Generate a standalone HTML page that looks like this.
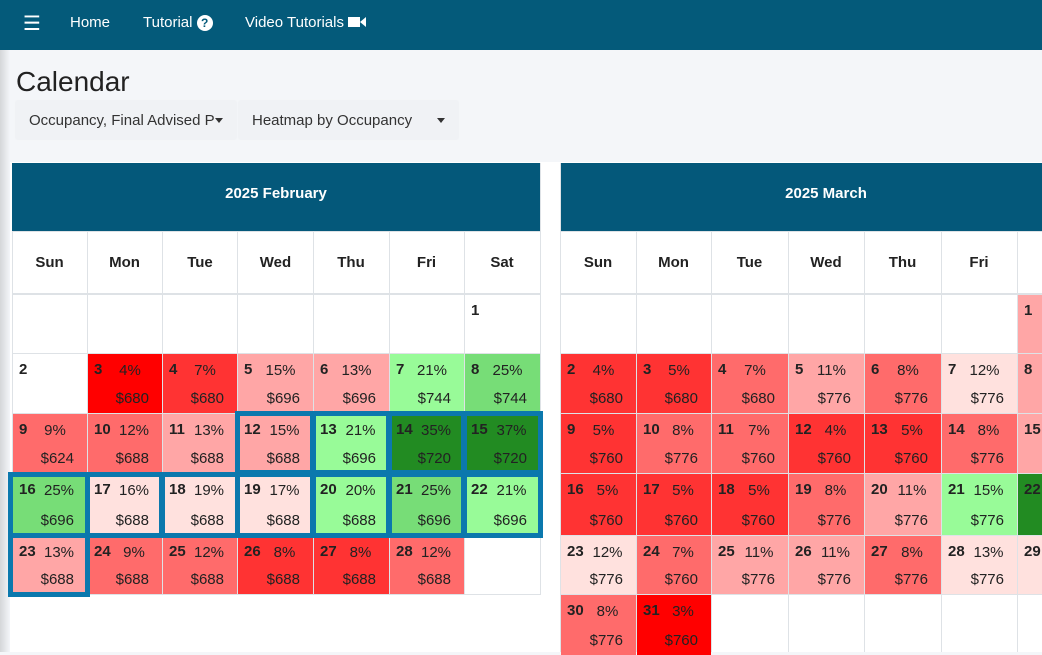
<!DOCTYPE html>
<html><head><meta charset="utf-8"><style>
*{box-sizing:border-box;margin:0;padding:0}
body{width:1042px;height:652px;overflow:hidden;background:#f4f6f9;font-family:"Liberation Sans","DejaVu Sans",sans-serif;position:relative;color:#212529}
.nav{position:absolute;left:0;top:0;width:1042px;height:50px;background:#045a7a;color:#fff;font-size:15px}
.nav span{position:absolute;top:14px}
.shadow{position:absolute;left:0;top:50px;width:10px;height:602px;background:linear-gradient(to right,#d4d6d9,#f4f6f9)}
h1{position:absolute;left:16px;top:66px;font-size:28px;font-weight:normal;color:#222}
.dd{position:absolute;top:101px;height:38px;background:#f0f2f5;font-size:15px;color:#333;padding:11px 13px;box-shadow:0 0 2px rgba(0,0,0,.05)}
.car{position:absolute;top:17px;width:0;height:0;border-left:4px solid transparent;border-right:4px solid transparent;border-top:5px solid #333}
.panel{position:absolute;left:10px;top:162px;width:1032px;height:490px;background:#fff}
.hd{position:absolute;top:163px;height:68px;background:#04587a;color:#fff;font-weight:bold;font-size:15px;text-align:center;line-height:62px}
.g{position:absolute;background:#dee2e6}
.wd{position:absolute;top:232px;height:62px;line-height:62px;text-align:center;font-weight:bold;font-size:15px;color:#222}
.c{position:absolute;font-size:15px;color:#222}
.c b{position:absolute;left:6px;top:7px;font-size:15px}
.c .p{position:absolute;top:8px;right:4px;text-align:center}
.c .m{position:absolute;right:13px;bottom:6px}
.o{position:absolute;border:5px solid #0b78ad}
</style></head><body>
<div class="nav">
<span style="left:23px;top:11px;font-size:20px;font-weight:bold">&#9776;</span>
<span style="left:70px">Home</span>
<span style="left:143px">Tutorial <b style="display:inline-block;width:16px;height:16px;border-radius:8px;background:#fff;color:#045a7a;font-size:12px;text-align:center;line-height:16px">?</b></span>
<span style="left:245px">Video Tutorials <b style="display:inline-block;width:12px;height:10px;background:#fff"></b><b style="display:inline-block;width:0;height:0;border-top:5px solid transparent;border-bottom:5px solid transparent;border-right:6px solid #fff"></b></span>
</div>
<div class="shadow"></div>
<h1>Calendar</h1>
<div class="dd" style="left:16px;width:220px">Occupancy, Final Advised P<i class="car" style="left:199px"></i></div>
<div class="dd" style="left:239px;width:219px">Heatmap by Occupancy<i class="car" style="left:198px"></i></div>
<div class="panel"></div>

<div class="hd" style="left:12px;width:528px">2025 February</div>
<div class="hd" style="left:560px;width:532px">2025 March</div>

<div class="g" style="left:12px;top:231px;width:528px;height:1px"></div>
<div class="g" style="left:12px;top:293px;width:528px;height:2px"></div>
<div class="g" style="left:12px;top:353px;width:528px;height:1px"></div>
<div class="g" style="left:12px;top:413px;width:528px;height:1px"></div>
<div class="g" style="left:12px;top:473px;width:528px;height:1px"></div>
<div class="g" style="left:12px;top:535px;width:528px;height:1px"></div>
<div class="g" style="left:12px;top:594px;width:528px;height:1px"></div>
<div class="g" style="left:12px;top:231px;width:1px;height:364px"></div>
<div class="g" style="left:87px;top:231px;width:1px;height:364px"></div>
<div class="g" style="left:162px;top:231px;width:1px;height:364px"></div>
<div class="g" style="left:237px;top:231px;width:1px;height:364px"></div>
<div class="g" style="left:313px;top:231px;width:1px;height:364px"></div>
<div class="g" style="left:389px;top:231px;width:1px;height:364px"></div>
<div class="g" style="left:464px;top:231px;width:1px;height:364px"></div>
<div class="g" style="left:540px;top:163px;width:1px;height:432px"></div>
<div class="g" style="left:560px;top:231px;width:482px;height:1px"></div>
<div class="g" style="left:560px;top:293px;width:482px;height:2px"></div>
<div class="g" style="left:560px;top:353px;width:482px;height:1px"></div>
<div class="g" style="left:560px;top:413px;width:482px;height:1px"></div>
<div class="g" style="left:560px;top:473px;width:482px;height:1px"></div>
<div class="g" style="left:560px;top:535px;width:482px;height:1px"></div>
<div class="g" style="left:560px;top:594px;width:482px;height:1px"></div>
<div class="g" style="left:560px;top:163px;width:1px;height:489px"></div>
<div class="g" style="left:636px;top:231px;width:1px;height:421px"></div>
<div class="g" style="left:711px;top:231px;width:1px;height:421px"></div>
<div class="g" style="left:788px;top:231px;width:1px;height:421px"></div>
<div class="g" style="left:864px;top:231px;width:1px;height:421px"></div>
<div class="g" style="left:941px;top:231px;width:1px;height:421px"></div>
<div class="g" style="left:1017px;top:231px;width:1px;height:421px"></div>

<div class="wd" style="left:12px;width:75px">Sun</div>
<div class="wd" style="left:87px;width:75px">Mon</div>
<div class="wd" style="left:162px;width:76px">Tue</div>
<div class="wd" style="left:238px;width:75px">Wed</div>
<div class="wd" style="left:313px;width:76px">Thu</div>
<div class="wd" style="left:389px;width:75px">Fri</div>
<div class="wd" style="left:464px;width:76px">Sat</div>
<div class="wd" style="left:560px;width:76px">Sun</div>
<div class="wd" style="left:636px;width:75px">Mon</div>
<div class="wd" style="left:711px;width:77px">Tue</div>
<div class="wd" style="left:788px;width:76px">Wed</div>
<div class="wd" style="left:864px;width:77px">Thu</div>
<div class="wd" style="left:941px;width:76px">Fri</div>

<div class="c" style="left:465px;top:295px;width:75px;height:58px"><b>1</b></div>
<div class="c" style="left:13px;top:354px;width:74px;height:59px"><b>2</b></div>
<div class="c" style="left:88px;top:354px;width:74px;height:59px;background:#ff0000"><b>3</b><span class="p" style="left:14px">4%</span><span class="m">$680</span></div>
<div class="c" style="left:163px;top:354px;width:74px;height:59px;background:#ff3333"><b>4</b><span class="p" style="left:14px">7%</span><span class="m">$680</span></div>
<div class="c" style="left:238px;top:354px;width:75px;height:59px;background:#ffa6a6"><b>5</b><span class="p" style="left:14px">15%</span><span class="m">$696</span></div>
<div class="c" style="left:314px;top:354px;width:75px;height:59px;background:#ffa6a6"><b>6</b><span class="p" style="left:14px">13%</span><span class="m">$696</span></div>
<div class="c" style="left:390px;top:354px;width:74px;height:59px;background:#98fb98"><b>7</b><span class="p" style="left:14px">21%</span><span class="m">$744</span></div>
<div class="c" style="left:465px;top:354px;width:75px;height:59px;background:#77dd77"><b>8</b><span class="p" style="left:14px">25%</span><span class="m">$744</span></div>

<div class="c" style="left:13px;top:414px;width:74px;height:59px;background:#ff6b6b"><b>9</b><span class="p" style="left:14px">9%</span><span class="m">$624</span></div>
<div class="c" style="left:88px;top:414px;width:74px;height:59px;background:#ff6b6b"><b>10</b><span class="p" style="left:22px">12%</span><span class="m">$688</span></div>
<div class="c" style="left:163px;top:414px;width:74px;height:59px;background:#ffa6a6"><b>11</b><span class="p" style="left:22px">13%</span><span class="m">$688</span></div>
<div class="c" style="left:238px;top:414px;width:75px;height:59px;background:#ffa6a6"><b>12</b><span class="p" style="left:22px">15%</span><span class="m">$688</span></div>
<div class="c" style="left:314px;top:414px;width:75px;height:59px;background:#98fb98"><b>13</b><span class="p" style="left:22px">21%</span><span class="m">$696</span></div>
<div class="c" style="left:390px;top:414px;width:74px;height:59px;background:#228b22"><b>14</b><span class="p" style="left:22px">35%</span><span class="m">$720</span></div>
<div class="c" style="left:465px;top:414px;width:75px;height:59px;background:#228b22"><b>15</b><span class="p" style="left:22px">37%</span><span class="m">$720</span></div>

<div class="c" style="left:13px;top:474px;width:74px;height:61px;background:#77dd77"><b>16</b><span class="p" style="left:22px">25%</span><span class="m">$696</span></div>
<div class="c" style="left:88px;top:474px;width:74px;height:61px;background:#ffe1de"><b>17</b><span class="p" style="left:22px">16%</span><span class="m">$688</span></div>
<div class="c" style="left:163px;top:474px;width:74px;height:61px;background:#ffe1de"><b>18</b><span class="p" style="left:22px">19%</span><span class="m">$688</span></div>
<div class="c" style="left:238px;top:474px;width:75px;height:61px;background:#ffe1de"><b>19</b><span class="p" style="left:22px">17%</span><span class="m">$688</span></div>
<div class="c" style="left:314px;top:474px;width:75px;height:61px;background:#98fb98"><b>20</b><span class="p" style="left:22px">20%</span><span class="m">$688</span></div>
<div class="c" style="left:390px;top:474px;width:74px;height:61px;background:#77dd77"><b>21</b><span class="p" style="left:22px">25%</span><span class="m">$696</span></div>
<div class="c" style="left:465px;top:474px;width:75px;height:61px;background:#98fb98"><b>22</b><span class="p" style="left:22px">21%</span><span class="m">$696</span></div>

<div class="c" style="left:13px;top:536px;width:74px;height:58px;background:#ffa6a6"><b>23</b><span class="p" style="left:22px">13%</span><span class="m">$688</span></div>
<div class="c" style="left:88px;top:536px;width:74px;height:58px;background:#ff6b6b"><b>24</b><span class="p" style="left:22px">9%</span><span class="m">$688</span></div>
<div class="c" style="left:163px;top:536px;width:74px;height:58px;background:#ff6b6b"><b>25</b><span class="p" style="left:22px">12%</span><span class="m">$688</span></div>
<div class="c" style="left:238px;top:536px;width:75px;height:58px;background:#ff3333"><b>26</b><span class="p" style="left:22px">8%</span><span class="m">$688</span></div>
<div class="c" style="left:314px;top:536px;width:75px;height:58px;background:#ff3333"><b>27</b><span class="p" style="left:22px">8%</span><span class="m">$688</span></div>
<div class="c" style="left:390px;top:536px;width:74px;height:58px;background:#ff6b6b"><b>28</b><span class="p" style="left:22px">12%</span><span class="m">$688</span></div>

<div class="o" style="left:235px;top:411px;width:80px;height:64px"></div>
<div class="o" style="left:311px;top:411px;width:80px;height:64px"></div>
<div class="o" style="left:387px;top:411px;width:79px;height:64px"></div>
<div class="o" style="left:462px;top:411px;width:81px;height:64px"></div>
<div class="o" style="left:8px;top:472px;width:82px;height:66px"></div>
<div class="o" style="left:85px;top:472px;width:79px;height:66px"></div>
<div class="o" style="left:160px;top:472px;width:80px;height:66px"></div>
<div class="o" style="left:235px;top:472px;width:80px;height:66px"></div>
<div class="o" style="left:311px;top:472px;width:80px;height:66px"></div>
<div class="o" style="left:387px;top:472px;width:79px;height:66px"></div>
<div class="o" style="left:462px;top:472px;width:81px;height:66px"></div>
<div class="o" style="left:8px;top:533px;width:82px;height:64px"></div>

<div class="c" style="left:1018px;top:295px;width:30px;height:58px;background:#ffa6a6"><b>1</b></div>
<div class="c" style="left:561px;top:354px;width:75px;height:59px;background:#ff3333"><b>2</b><span class="p" style="left:14px">4%</span><span class="m">$680</span></div>
<div class="c" style="left:637px;top:354px;width:74px;height:59px;background:#ff3333"><b>3</b><span class="p" style="left:14px">5%</span><span class="m">$680</span></div>
<div class="c" style="left:712px;top:354px;width:76px;height:59px;background:#ff6b6b"><b>4</b><span class="p" style="left:14px">7%</span><span class="m">$680</span></div>
<div class="c" style="left:789px;top:354px;width:75px;height:59px;background:#ffa6a6"><b>5</b><span class="p" style="left:14px">11%</span><span class="m">$776</span></div>
<div class="c" style="left:865px;top:354px;width:76px;height:59px;background:#ff6b6b"><b>6</b><span class="p" style="left:14px">8%</span><span class="m">$776</span></div>
<div class="c" style="left:942px;top:354px;width:75px;height:59px;background:#ffe1de"><b>7</b><span class="p" style="left:14px">12%</span><span class="m">$776</span></div>
<div class="c" style="left:1018px;top:354px;width:30px;height:59px;background:#ffa6a6"><b>8</b></div>

<div class="c" style="left:561px;top:414px;width:75px;height:59px;background:#ff3333"><b>9</b><span class="p" style="left:14px">5%</span><span class="m">$760</span></div>
<div class="c" style="left:637px;top:414px;width:74px;height:59px;background:#ff6b6b"><b>10</b><span class="p" style="left:22px">8%</span><span class="m">$776</span></div>
<div class="c" style="left:712px;top:414px;width:76px;height:59px;background:#ff6b6b"><b>11</b><span class="p" style="left:22px">7%</span><span class="m">$760</span></div>
<div class="c" style="left:789px;top:414px;width:75px;height:59px;background:#ff3333"><b>12</b><span class="p" style="left:22px">4%</span><span class="m">$760</span></div>
<div class="c" style="left:865px;top:414px;width:76px;height:59px;background:#ff3333"><b>13</b><span class="p" style="left:22px">5%</span><span class="m">$760</span></div>
<div class="c" style="left:942px;top:414px;width:75px;height:59px;background:#ff6b6b"><b>14</b><span class="p" style="left:22px">8%</span><span class="m">$776</span></div>
<div class="c" style="left:1018px;top:414px;width:30px;height:59px;background:#ffa6a6"><b>15</b></div>

<div class="c" style="left:561px;top:474px;width:75px;height:61px;background:#ff3333"><b>16</b><span class="p" style="left:22px">5%</span><span class="m">$760</span></div>
<div class="c" style="left:637px;top:474px;width:74px;height:61px;background:#ff3333"><b>17</b><span class="p" style="left:22px">5%</span><span class="m">$760</span></div>
<div class="c" style="left:712px;top:474px;width:76px;height:61px;background:#ff3333"><b>18</b><span class="p" style="left:22px">5%</span><span class="m">$760</span></div>
<div class="c" style="left:789px;top:474px;width:75px;height:61px;background:#ff6b6b"><b>19</b><span class="p" style="left:22px">8%</span><span class="m">$776</span></div>
<div class="c" style="left:865px;top:474px;width:76px;height:61px;background:#ffa6a6"><b>20</b><span class="p" style="left:22px">11%</span><span class="m">$776</span></div>
<div class="c" style="left:942px;top:474px;width:75px;height:61px;background:#98fb98"><b>21</b><span class="p" style="left:22px">15%</span><span class="m">$776</span></div>
<div class="c" style="left:1018px;top:474px;width:30px;height:61px;background:#228b22"><b>22</b></div>

<div class="c" style="left:561px;top:536px;width:75px;height:58px;background:#ffe1de"><b>23</b><span class="p" style="left:22px">12%</span><span class="m">$776</span></div>
<div class="c" style="left:637px;top:536px;width:74px;height:58px;background:#ff6b6b"><b>24</b><span class="p" style="left:22px">7%</span><span class="m">$760</span></div>
<div class="c" style="left:712px;top:536px;width:76px;height:58px;background:#ffa6a6"><b>25</b><span class="p" style="left:22px">11%</span><span class="m">$776</span></div>
<div class="c" style="left:789px;top:536px;width:75px;height:58px;background:#ffa6a6"><b>26</b><span class="p" style="left:22px">11%</span><span class="m">$776</span></div>
<div class="c" style="left:865px;top:536px;width:76px;height:58px;background:#ff6b6b"><b>27</b><span class="p" style="left:22px">8%</span><span class="m">$776</span></div>
<div class="c" style="left:942px;top:536px;width:75px;height:58px;background:#ffe1de"><b>28</b><span class="p" style="left:22px">13%</span><span class="m">$776</span></div>
<div class="c" style="left:1018px;top:536px;width:30px;height:58px;background:#ffe1de"><b>29</b></div>

<div class="c" style="left:561px;top:595px;width:75px;height:60px;background:#ff6b6b"><b>30</b><span class="p" style="left:22px">8%</span><span class="m" style="bottom:6px">$776</span></div>
<div class="c" style="left:637px;top:595px;width:74px;height:60px;background:#ff0000"><b>31</b><span class="p" style="left:22px">3%</span><span class="m" style="bottom:6px">$760</span></div>
</body></html>
